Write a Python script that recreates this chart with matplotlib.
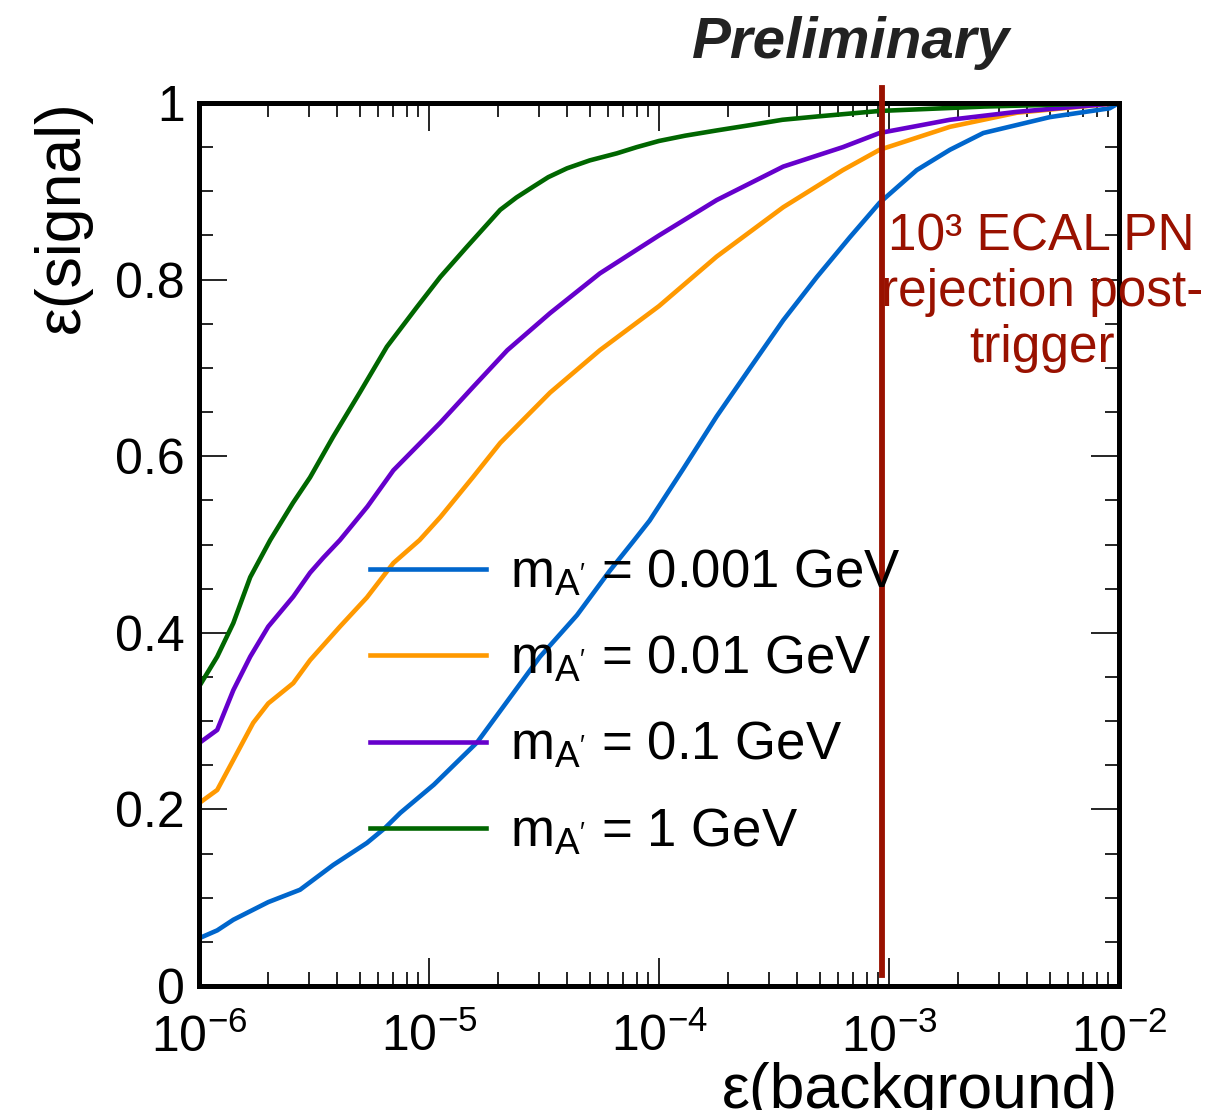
import matplotlib
matplotlib.use("Agg")
import matplotlib.pyplot as plt
from matplotlib.ticker import FixedLocator, LogLocator, NullFormatter, MultipleLocator

plt.rcParams["font.family"] = ["Liberation Sans", "DejaVu Sans"]
plt.rcParams["mathtext.fontset"] = "custom"
plt.rcParams["mathtext.rm"] = "Liberation Sans"
plt.rcParams["mathtext.it"] = "Liberation Sans:italic"
plt.rcParams["mathtext.default"] = "regular"

# ROC curves: signal efficiency vs background efficiency
bkg_001 = [1.0e-6, 1.2e-6, 1.41e-6, 2.0e-6, 2.75e-6, 3.83e-6, 5.37e-6, 6.44e-6, 7.5e-6,
           1.05e-5, 1.62e-5, 3.04e-5, 4.4e-5, 6.1e-5, 7.7e-5, 9.1e-5, 1.27e-4, 1.78e-4,
           2.49e-4, 3.47e-4, 4.86e-4, 6.76e-4, 9.1e-4, 1.32e-3, 1.84e-3, 2.57e-3,
           5.0e-3, 9.1e-3, 1.0e-2]
sig_001 = [0.054, 0.063, 0.075, 0.095, 0.109, 0.137, 0.162, 0.179, 0.196,
           0.228, 0.276, 0.373, 0.420, 0.470, 0.503, 0.527, 0.585, 0.645,
           0.700, 0.754, 0.803, 0.848, 0.887, 0.924, 0.947, 0.966,
           0.984, 0.994, 1.0]

bkg_01 = [1.0e-6, 1.2e-6, 1.41e-6, 1.72e-6, 2.0e-6, 2.57e-6, 3.04e-6, 4.1e-6, 5.37e-6,
          7.0e-6, 9.1e-6, 1.12e-5, 1.55e-5, 2.04e-5, 3.36e-5, 5.53e-5, 1.0e-4, 1.78e-4,
          3.47e-4, 6.3e-4, 9.1e-4, 1.84e-3, 3.6e-3, 1.0e-2]
sig_01 = [0.207, 0.222, 0.256, 0.298, 0.320, 0.343, 0.369, 0.407, 0.440,
          0.479, 0.505, 0.531, 0.576, 0.615, 0.672, 0.720, 0.770, 0.826,
          0.882, 0.924, 0.947, 0.973, 0.989, 1.0]

bkg_1 = [1.0e-6, 1.2e-6, 1.41e-6, 1.67e-6, 2.0e-6, 2.57e-6, 3.04e-6, 3.47e-6, 4.1e-6,
         5.4e-6, 7.0e-6, 1.12e-5, 1.55e-5, 2.19e-5, 3.36e-5, 5.53e-5, 1.0e-4, 1.78e-4,
         3.47e-4, 6.3e-4, 9.1e-4, 1.84e-3, 3.6e-3, 1.0e-2]
sig_1 = [0.275, 0.290, 0.335, 0.373, 0.407, 0.441, 0.468, 0.485, 0.505,
         0.543, 0.584, 0.638, 0.678, 0.720, 0.762, 0.807, 0.850, 0.890,
         0.928, 0.950, 0.966, 0.981, 0.990, 1.0]

bkg_10 = [1.0e-6, 1.2e-6, 1.41e-6, 1.67e-6, 2.04e-6, 2.56e-6, 3.04e-6, 3.83e-6, 5.0e-6,
          6.56e-6, 8.87e-6, 1.12e-5, 1.46e-5, 2.04e-5, 2.4e-5, 2.83e-5, 3.3e-5, 3.98e-5,
          5.0e-5, 6.56e-5, 8.0e-5, 1.0e-4, 1.3e-4, 1.79e-4, 2.5e-4, 3.44e-4, 5.0e-4,
          9.1e-4, 2.6e-3, 1.0e-2]
sig_10 = [0.339, 0.373, 0.411, 0.463, 0.505, 0.547, 0.576, 0.622, 0.672,
          0.724, 0.769, 0.803, 0.837, 0.879, 0.893, 0.905, 0.916, 0.926,
          0.935, 0.943, 0.950, 0.957, 0.963, 0.969, 0.975, 0.981, 0.985,
          0.991, 0.996, 1.0]

labels = [r"m$_{A'}$ = 0.001 GeV", r"m$_{A'}$ = 0.01 GeV",
          r"m$_{A'}$ = 0.1 GeV", r"m$_{A'}$ = 1 GeV"]
colors = ["#0066CC", "#FF9900", "#6600CC", "#006600"]

cut_bkg = 9.3e-4
cut_lines = ["10³ ECAL PN", "rejection post-", "trigger"]

fig = plt.figure(figsize=(12.09, 11.10), dpi=100)
ax = fig.add_axes([199 / 1209, 1 - 986 / 1110, 920 / 1209, 883 / 1110])

series = [(bkg_001, sig_001), (bkg_01, sig_01), (bkg_1, sig_1), (bkg_10, sig_10)]
for (bx, sy), c, lab in zip(series, colors, labels):
    ax.plot(bx, sy, color=c, lw=3.3, label=lab, solid_joinstyle="round")

# background-rejection working point
ax.plot([cut_bkg, cut_bkg], [0.0125, 1.017], color="#991100", lw=4.2,
        clip_on=False, zorder=5)
ax.text(0.916, 0.785, "\n".join(cut_lines), transform=ax.transAxes,
        ha="center", va="center", color="#991100", fontsize=37,
        linespacing=1.17, zorder=6)

ax.set_xscale("log")
ax.set_xlim(1e-6, 1e-2)
ax.set_ylim(0, 1)

ax.xaxis.set_major_locator(LogLocator(base=10, numticks=10))
ax.xaxis.set_minor_locator(LogLocator(base=10, subs=range(2, 10), numticks=50))
ax.xaxis.set_minor_formatter(NullFormatter())
ax.yaxis.set_major_locator(FixedLocator([0, 0.2, 0.4, 0.6, 0.8, 1.0]))
ax.yaxis.set_major_formatter(plt.FuncFormatter(lambda v, p: "%g" % v))
ax.yaxis.set_minor_locator(MultipleLocator(0.05))

ax.tick_params(which="both", direction="in", top=True, right=True,
               width=1.2, labelsize=36)
ax.tick_params(which="major", length=20)
ax.tick_params(which="minor", length=10)
ax.tick_params(axis="y", which="major", pad=10)
ax.tick_params(axis="x", which="major", pad=20)
for s in ax.spines.values():
    s.set_linewidth(3.6)

fig.text(62 / 1209, 1 - 100 / 1110, "ε(signal)", rotation=90, ha="center",
         va="top", fontsize=45)
fig.text(1118 / 1209, 1 - 1062 / 1110, "ε(background)", ha="right",
         va="top", fontsize=45)
fig.text(851 / 1209, 1 - 43 / 1110, "Preliminary", ha="center", va="center",
         fontsize=42, fontweight="bold", fontstyle="italic", color="#222222")

leg = ax.legend(loc="upper left", bbox_to_anchor=(370 / 1209, 1 - 548 / 1110),
                bbox_transform=fig.transFigure, frameon=False, fontsize=38,
                handlelength=2.2, handletextpad=0.45, labelspacing=0.68,
                borderpad=0, borderaxespad=0)
for h in leg.get_lines():
    h.set_linewidth(3.3)

fig.savefig("out.png", dpi=100)
